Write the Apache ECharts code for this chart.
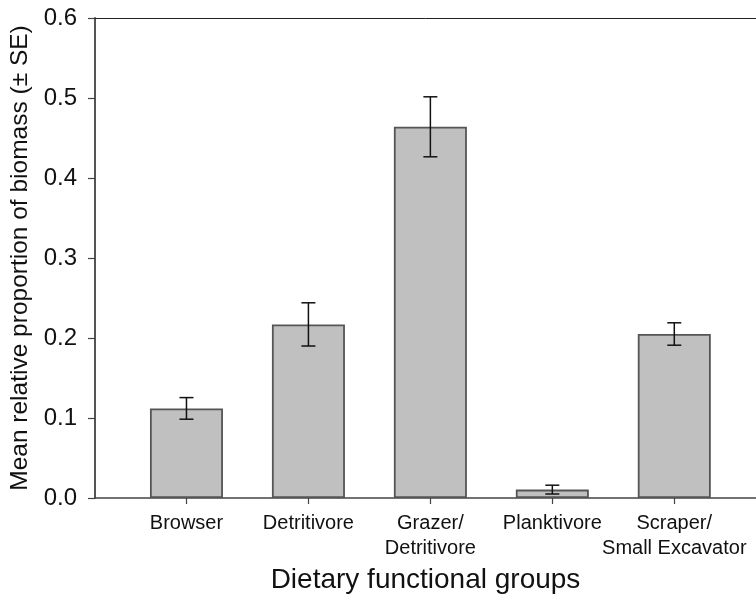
<!DOCTYPE html>
<html>
<head>
<meta charset="utf-8">
<script src="https://cdn.jsdelivr.net/npm/echarts@6/dist/echarts.min.js"></script>
<style>html,body{margin:0;padding:0;background:#fff;}#chart{width:756px;height:604px;}</style>
</head>
<body>
<div id="chart"></div>
<script>
const categories = ['Browser', 'Detritivore', 'Grazer/\nDetritivore', 'Planktivore', 'Scraper/\nSmall Excavator'];
const meanValues = [0.112, 0.217, 0.464, 0.0105, 0.205];
const seValues = [0.0135, 0.027, 0.0375, 0.0055, 0.014];
const yTicks = [0, 0.1, 0.2, 0.3, 0.4, 0.5, 0.6];

const idx = categories.map((c, i) => i);
const barData = meanValues.map((v, i) => [i, v]);
const errData = meanValues.map((v, i) => [i, v - seValues[i], v + seValues[i]]);

const chart = echarts.init(document.getElementById('chart'));
chart.setOption({
  animation: false,
  backgroundColor: '#fff',
  grid: { left: 95, top: 18, right: 0, height: 480, show: false, outerBoundsMode: 'none', containLabel: false },
  xAxis: [{
    type: 'value', min: -0.75, max: 4.67,
    splitLine: { show: false },
    axisLine: { show: true, onZero: false, lineStyle: { color: '#444', width: 1.5 } },
    axisTick: { show: true, customValues: idx, length: 6, lineStyle: { color: '#444', width: 1.2 } },
    axisLabel: {
      customValues: idx,
      showMinLabel: true, showMaxLabel: true, hideOverlap: false,
      formatter: v => categories[Math.round(v)] || '',
      margin: 13, fontSize: 20, lineHeight: 25,
      fontFamily: "'Liberation Sans', Arial, sans-serif",
      color: '#111'
    },
    name: 'Dietary functional groups', nameLocation: 'middle', nameGap: 68,
    nameTextStyle: { fontSize: 28, fontFamily: "'Liberation Sans', Arial, sans-serif", color: '#111' }
  }, {
    type: 'value', position: 'top', min: -0.75, max: 4.67,
    splitLine: { show: false },
    axisLine: { show: true, onZero: false, lineStyle: { color: '#222', width: 1 } },
    axisTick: { show: false }, axisLabel: { show: false }
  }],
  yAxis: {
    type: 'value', min: 0, max: 0.6, interval: 0.1,
    splitLine: { show: false },
    axisLine: { show: true, onZero: false, lineStyle: { color: '#555', width: 2 } },
    axisTick: { show: true, length: 7, lineStyle: { color: '#444', width: 1.2 } },
    axisLabel: {
      formatter: v => { const t = yTicks.find(x => Math.abs(x - v) < 1e-9); return t === undefined ? '' : t.toFixed(1); },
      margin: 18, fontSize: 24, fontFamily: "'Liberation Sans', Arial, sans-serif", color: '#111'
    },
    name: 'Mean relative proportion of biomass (\u00b1 SE)', nameLocation: 'middle', nameGap: 58,
    nameTextStyle: { fontSize: 24.5, fontFamily: "'Liberation Sans', Arial, sans-serif", color: '#111' }
  },
  series: [
    {
      type: 'bar', data: barData, barWidth: 73,
      itemStyle: { color: '#c0c0c0', borderColor: '#555', borderWidth: 1.8 }
    },
    {
      type: 'custom', data: errData, z: 5,
      renderItem: function (params, api) {
        const x = api.value(0);
        const lo = api.coord([x, api.value(1)]);
        const hi = api.coord([x, api.value(2)]);
        const hw = 7;
        const st = { stroke: '#111', lineWidth: 1.5 };
        return { type: 'group', children: [
          { type: 'line', shape: { x1: lo[0], y1: lo[1], x2: hi[0], y2: hi[1] }, style: st },
          { type: 'line', shape: { x1: lo[0] - hw, y1: lo[1], x2: lo[0] + hw, y2: lo[1] }, style: st },
          { type: 'line', shape: { x1: hi[0] - hw, y1: hi[1], x2: hi[0] + hw, y2: hi[1] }, style: st }
        ]};
      }
    }
  ]
});
</script>
</body>
</html>
